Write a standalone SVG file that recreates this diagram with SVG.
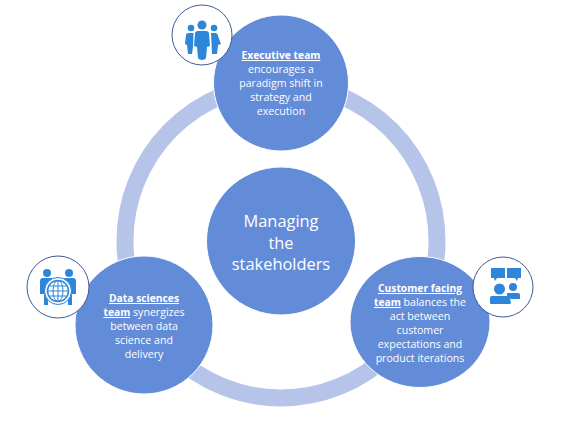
<svg xmlns="http://www.w3.org/2000/svg" width="567" height="421" viewBox="0 0 567 421">
<style>
text{font-family:"Open Sans","Noto Sans","Liberation Sans",sans-serif;fill:#fff;text-anchor:middle;font-size:10.6px}
.b{font-weight:700;text-decoration:underline;font-size:10.3px}
.c{font-size:16.4px}
.n{fill:#628bd8;stroke:#fff;stroke-width:1}
.i{fill:#fff;stroke:#3f5a98;stroke-width:1}
.g{fill:#2e86d8}
.gs{fill:none;stroke:#2e86d8}
</style>
<rect width="567" height="421" fill="#fff"/>
<g id="connectors"><ellipse cx="281" cy="241" rx="156" ry="157" fill="none" stroke="#b5c4e8" stroke-width="17"/></g>
<g id="center"><ellipse class="n" cx="281" cy="241" rx="74.500" ry="74"/>
<text class="c" x="281" y="227">Managing</text><text class="c" x="281" y="248.500">the</text><text class="c" x="281" y="270">stakeholders</text></g>
<g id="executive"><ellipse class="n" cx="281" cy="83" rx="67.500" ry="68"/>
<text class="b" x="281" y="59">Executive team</text><text x="281" y="73">encourages a</text><text x="281" y="87">paradigm shift in</text><text x="281" y="101">strategy and</text><text x="281" y="115">execution</text></g>
<g id="executive-icon"><circle class="i" cx="202" cy="35" r="30"/>
<circle class="g" cx="202" cy="25" r="4.500"/><path class="g" d="M195 34q0-3 3-3h8q3 0 3 3l1 12-3 1-1 11q-1 2-4 2t-4-2l-1-11-3-1z"/>
<circle class="g" cx="191" cy="28" r="3.300"/><path class="g" d="M193.500 33l-.5 14-1 7h-4l-1-9-2-1 1-9q0-2 3-2z"/>
<circle class="g" cx="214" cy="28" r="3.300"/><path class="g" d="M211 33h5q2 1 2 3l3 8-3 1-1 9h-5z"/></g>
<g id="data"><ellipse class="n" cx="144" cy="325" rx="69" ry="69"/>
<text class="b" x="144" y="302">Data sciences</text><text x="144" y="316"><tspan class="b">team</tspan> synergizes</text><text x="144" y="330">between data</text><text x="144" y="344">science and</text><text x="144" y="358">delivery</text></g>
<g id="data-icon"><circle class="i" cx="58" cy="287" r="31"/>
<circle class="g" cx="47" cy="273" r="4"/><circle class="g" cx="69" cy="273" r="4"/>
<path class="g" d="M40 281q0-3 3-3h8q3 0 3 3v5l-6 13v6h-4v-11h-4z"/><path class="g" d="M76 281q0-3-3-3h-8q-3 0-3 3v5l6 13v6h4v-11h4z"/>
<circle cx="58" cy="291" r="13.500" fill="#fff" stroke="#2e86d8"/><circle class="gs" cx="58" cy="291" r="10.500" stroke-width="1.500"/>
<ellipse class="gs" cx="58" cy="291" rx="5" ry="10.500"/><path class="gs" d="M58 280v22M48 291h20M49.500 286h17M49.500 296h17"/></g>
<g id="customer"><ellipse class="n" cx="420" cy="322" rx="70" ry="65.500"/>
<text class="b" x="420" y="292">Customer facing</text><text x="420" y="306"><tspan class="b">team</tspan> balances the</text><text x="420" y="320">act between</text><text x="420" y="334">customer</text><text x="420" y="348">expectations and</text><text x="420" y="362">product iterations</text></g>
<g id="customer-icon"><circle class="i" cx="503" cy="287" r="30"/>
<path class="g" d="M491 268h14v10h-8l-2 3-1-3h-3z"/><path class="g" d="M507 268h14v10h-3l-1 3-2-3h-8z"/>
<circle class="g" cx="513" cy="287" r="4"/><path class="g" d="M507 293h11q2 0 2 2v4h-9l-4-3z"/>
<circle class="g" cx="499.500" cy="289" r="5.500"/><path class="g" d="M490 298q0-2 2-2h16q2 0 2 2l1 5q0 1-2 1h-18q-1 0-1-1z"/></g>
</svg>
